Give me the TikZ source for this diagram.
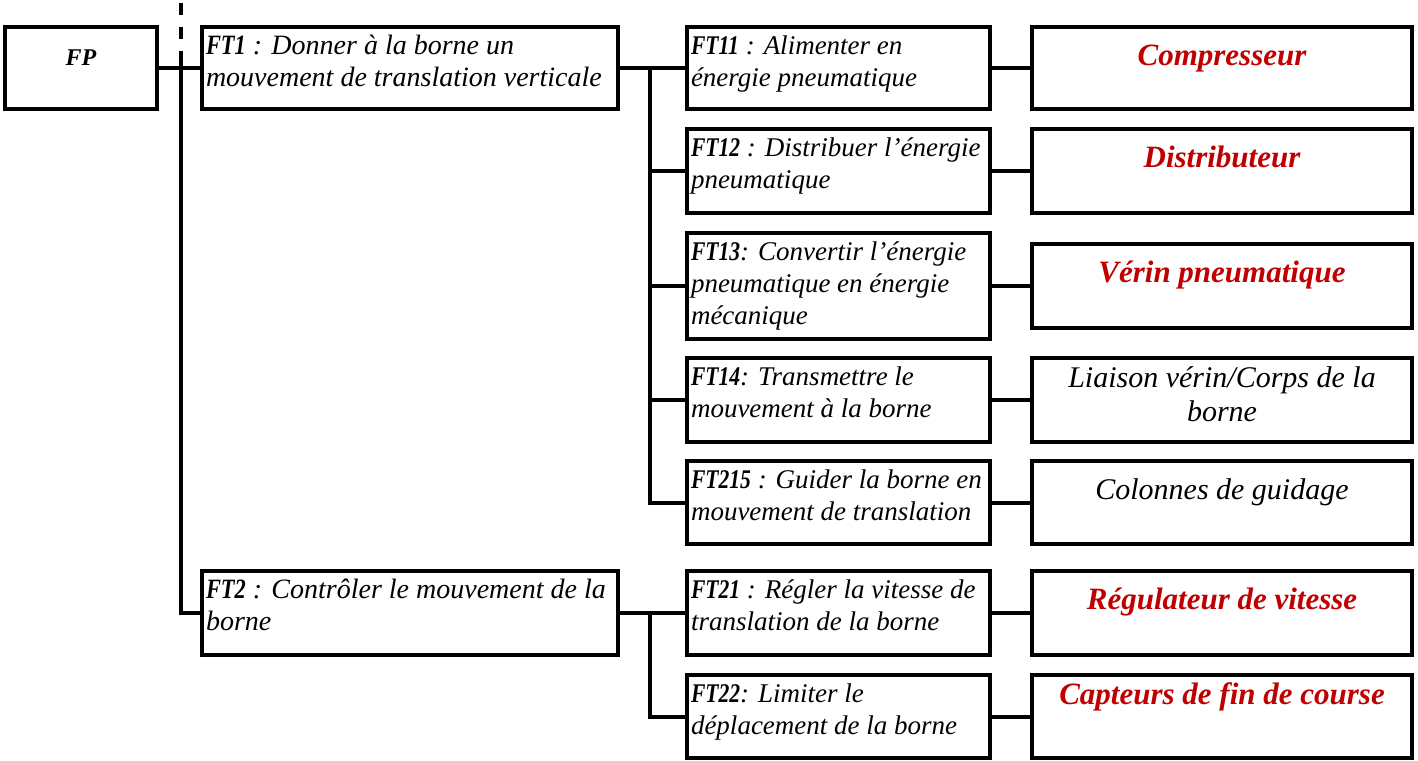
\documentclass[tikz,border=0pt]{standalone}
\usepackage{fontspec}
\setmainfont{Liberation Serif}
\newfontfamily\etroite{Liberation Serif}[FakeStretch=0.8]
\usetikzlibrary{positioning}

\definecolor{rouge}{RGB}{192,0,0}

% texte en haut de la case : [decalage]{largeur}{hauteur}{alignement}{texte}
\newcommand{\casetxt}[5][0pt]{\parbox[c][\dimexpr#3-10pt\relax][t]{\dimexpr#2-8pt\relax}{\vspace*{#1}#4\strut#5}}
% numero de fonction en gras
\newcommand{\ft}[1]{{\etroite\bfseries\itshape #1}}

\begin{document}
\begin{tikzpicture}[
          x=1pt, y=-1pt,
          box/.style = {draw, line width=3.5pt, outer sep=0pt, inner xsep=4pt, inner ysep=5pt, font=\fontsize{27}{32}\selectfont\itshape},
          ftbox/.style = {box, anchor=north west},
          large/.style = {font=\fontsize{28}{32}\selectfont\itshape},
          sol/.style = {box, text=rouge, font=\fontsize{31}{34}\selectfont\bfseries\itshape},
          solnoir/.style = {box, font=\fontsize{30}{34}\selectfont\itshape},
          lien/.style = {line width=4pt}
         ]

        \useasboundingbox (0,0) rectangle (1418,760);

        % Fonction principale
        \node[ftbox, font=\fontsize{24}{28}\selectfont\bfseries\itshape] (fp) at (5,27) {\casetxt[14pt]{152pt}{82pt}{\centering}{FP}};

        % FT1 et ses sous-fonctions
        \node[ftbox, large] (ft1) at (202,27) {\casetxt{416pt}{82pt}{\raggedright}{\ft{FT1} : Donner à  la borne un\\mouvement de translation verticale}};

        \node[ftbox] (ft11) at (687,27) {\casetxt{303pt}{82pt}{\raggedright}{\ft{FT11} : Alimenter en\\énergie pneumatique}};
        \node[box, below=20pt of ft11] (ft12) {\casetxt{303pt}{84pt}{\raggedright}{\ft{FT12} : Distribuer l’énergie\\pneumatique}};
        \node[box, below=20pt of ft12] (ft13) {\casetxt{303pt}{106pt}{\raggedright}{\ft{FT13}: Convertir l’énergie\\pneumatique en énergie\\mécanique}};
        \node[box, below=19pt of ft13] (ft14) {\casetxt{303pt}{84pt}{\raggedright}{\ft{FT14}: Transmettre le\\mouvement à la borne}};
        \node[box, below=19pt of ft14] (ft215) {\casetxt{303pt}{83pt}{\raggedright}{\ft{FT215} : Guider la borne en\\mouvement de translation}};

        % FT2 et ses sous-fonctions
        \node[ftbox, large] (ft2) at (202,571) {\casetxt{416pt}{84pt}{\raggedright}{\ft{FT2} : Contrôler le mouvement de la\\borne}};

        \node[ftbox] (ft21) at (687,571) {\casetxt{303pt}{84pt}{\raggedright}{\ft{FT21} : Régler la vitesse de\\translation de la borne}};
        \node[box, below=20pt of ft21] (ft22) {\casetxt{303pt}{83pt}{\raggedright}{\ft{FT22}: Limiter le\\déplacement de la borne}};

        % Solutions techniques
        \node[sol, right=42pt of ft11] (compresseur) {\casetxt[10pt]{380pt}{82pt}{\centering}{Compresseur}};
        \node[sol, right=42pt of ft12] (distributeur) {\casetxt[10pt]{380pt}{84pt}{\centering}{Distributeur}};
        \node[sol, right=42pt of ft13] (verin) {\casetxt[10pt]{380pt}{84pt}{\centering}{Vérin pneumatique}};
        \node[solnoir, right=42pt of ft14] (liaison) {\casetxt[1pt]{380pt}{84pt}{\centering}{Liaison vérin/Corps de la\\borne}};
        \node[solnoir, right=42pt of ft215] (colonnes) {\casetxt[10pt]{380pt}{83pt}{\centering}{Colonnes de guidage}};
        \node[sol, right=42pt of ft21] (regulateur) {\casetxt[10pt]{380pt}{84pt}{\centering}{Régulateur de vitesse}};
        \node[sol, right=42pt of ft22] (capteurs) {\casetxt[1pt]{380pt}{83pt}{\centering}{Capteurs de fin de course}};

        % Liaisons
        \coordinate (haut) at (181,3);
        \coordinate (bus) at (181,51);
        \draw[lien, dash pattern=on 12pt off 12pt] (haut) -- (bus);
        \draw[lien] (fp) -- (ft1);
        \draw[lien] (bus) |- (ft2);

        \coordinate (j1) at ([xshift=-37pt]ft11.west);
        \draw[lien] (ft1) -- (ft11);
        \foreach \n in {ft12, ft13, ft14, ft215}
          \draw[lien] (j1) |- (\n);

        \coordinate (j2) at ([xshift=-37pt]ft21.west);
        \draw[lien] (ft2) -- (ft21);
        \draw[lien] (j2) |- (ft22);

        \draw[lien] (ft11) -- (compresseur);
        \draw[lien] (ft12) -- (distributeur);
        \draw[lien] (ft13) -- (verin);
        \draw[lien] (ft14) -- (liaison);
        \draw[lien] (ft215) -- (colonnes);
        \draw[lien] (ft21) -- (regulateur);
        \draw[lien] (ft22) -- (capteurs);

\end{tikzpicture}
\end{document}
